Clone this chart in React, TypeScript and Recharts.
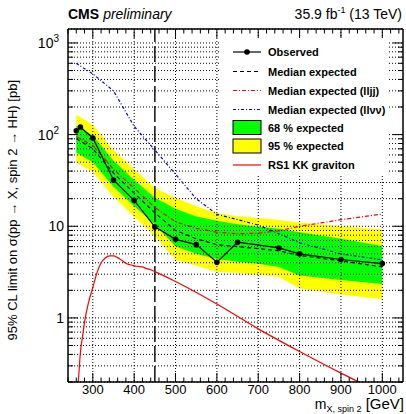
import React from 'react'
import { ComposedChart, Line, Area, XAxis, YAxis, CartesianGrid, ReferenceLine } from 'recharts'

const FONT = '"Liberation Sans", Arial, Helvetica, sans-serif'

// expected limits, sampled at these masses [GeV]
const expMass = [260, 270, 300, 350, 400, 450, 500, 550, 600, 650, 700, 750, 800, 900, 1000]
const expMedian = [90, 85, 70, 38, 23, 14, 9.0, 7.3, 6.3, 6.0, 5.7, 5.4, 4.8, 4.2, 3.6]
const exp68Hi = [125, 118, 98, 52, 32, 20.5, 15.5, 12.8, 11.5, 10.5, 9.9, 9.4, 8.6, 7.3, 6.1]
const exp68Lo = [64, 60, 50, 27, 16.5, 10.5, 6.0, 5.0, 4.4, 4.1, 3.9, 3.6, 2.9, 2.6, 2.35]
const exp95Hi = [165, 155, 128, 68, 42, 26, 20.5, 16.5, 14, 12.9, 12.3, 11.7, 11, 10, 9.2]
const exp95Lo = [50, 47, 39, 21, 12.7, 7.8, 4.3, 3.7, 3.2, 3.1, 2.95, 2.8, 2.1, 1.8, 1.6]
const expLljj = [95, 90, 76, 42, 26, 16, 11.2, 9.5, 8.6, 8.3, 8.4, 8.9, 10, 11.8, 13.6]
const expLlvv = [600, 560, 460, 300, 123, 68, 37, 20, 13.5, 11.8, 10.3, 8.3, 6.6, 5.0, 4.3]

// observed limit
const obsMass = [260, 270, 300, 350, 400, 450, 500, 550, 600, 650, 750, 800, 900, 1000]
const obsLimit = [110, 121, 92, 32, 19.2, 9.85, 7.2, 6.3, 4.05, 6.7, 5.8, 5.0, 4.34, 3.92]

// RS1 KK graviton cross section
const rsMass = [262, 265, 270, 275, 280, 290, 300, 310, 320, 330, 340, 350, 360, 370, 380, 390, 400, 410, 420, 430, 440, 450, 500, 600, 700, 800, 900, 1000]
const rsXsec = [0.17, 0.21, 0.42, 0.62, 0.9, 1.5, 2.15, 3.1, 4.0, 4.5, 4.75, 4.75, 4.55, 4.25, 3.95, 3.8, 3.7, 3.65, 3.6, 3.45, 3.35, 3.2, 2.5, 1.42, 0.76, 0.43, 0.25, 0.15]

const xMajor = [300, 400, 500, 600, 700, 800, 900, 1000]
const xTicks = Array.from({ length: 41 }, (_, i) => 240 + i * 20)
const yTicks = [0.1, 1, 10, 100].flatMap(d => [1, 2, 3, 4, 5, 6, 7, 8, 9].map(k => +(k * d).toPrecision(3))).filter(v => v >= 0.2).concat([1000])

const bandData = expMass.map((x, i) => ({ x, y95: [exp95Lo[i], exp95Hi[i]], y68: [exp68Lo[i], exp68Hi[i]] }))
const medianData = expMass.map((x, i) => ({ x, y: expMedian[i] }))
const lljjData = expMass.map((x, i) => ({ x, y: expLljj[i] }))
const llvvData = expMass.map((x, i) => ({ x, y: expLlvv[i] }))
const obsData = obsMass.map((x, i) => ({ x, y: obsLimit[i] }))
const rsData = rsMass.map((x, i) => ({ x, y: rsXsec[i] }))

const isDecade = (v: number) => {
  const l = Math.log10(v)
  return Math.abs(l - Math.round(l)) < 1e-6
}

const frame = { stroke: '#000', strokeWidth: 1.5 }

const BottomTick = (p: any) => {
  const v = p.payload.value
  const major = v % 100 === 0 && v >= 300
  return (
    <g>
      <line x1={p.x} x2={p.x} y1={p.y} y2={p.y - (major ? 9 : 4.5)} stroke="#000" />
      {major && <text x={p.x} y={p.y + 11.5} textAnchor="middle" fontSize={13} fontFamily={FONT}>{v}</text>}
    </g>
  )
}

const TopTick = (p: any) => {
  const v = p.payload.value
  const major = v % 100 === 0 && v >= 300
  return <line x1={p.x} x2={p.x} y1={p.y} y2={p.y + (major ? 9 : 4.5)} stroke="#000" />
}

const LeftTick = (p: any) => {
  const v = p.payload.value
  const major = isDecade(v)
  const e = Math.round(Math.log10(v))
  return (
    <g>
      <line x1={p.x} x2={p.x + (major ? 10 : 5)} y1={p.y} y2={p.y} stroke="#000" />
      {major && e < 2 && (
        <text x={p.x - 4} y={p.y + 5} textAnchor="end" fontSize={14} fontFamily={FONT}>{v}</text>
      )}
      {major && e >= 2 && (
        <text x={p.x - 9} y={p.y + 5} textAnchor="end" fontSize={14} fontFamily={FONT}>
          10<tspan fontSize={10} dy={-6}>{e}</tspan>
        </text>
      )}
    </g>
  )
}

const RightTick = (p: any) => {
  const major = isDecade(p.payload.value)
  return <line x1={p.x} x2={p.x - (major ? 10 : 5)} y1={p.y} y2={p.y} stroke="#000" />
}

const legendRows = [
  { label: 'Observed', kind: 'obs' },
  { label: 'Median expected', kind: 'median' },
  { label: 'Median expected (lljj)', kind: 'lljj' },
  { label: 'Median expected (llνν)', kind: 'llvv' },
  { label: '68 % expected', kind: 'g68' },
  { label: '95 % expected', kind: 'g95' },
  { label: 'RS1 KK graviton', kind: 'rs' },
]
const legendY = [52, 71.5, 90.5, 109.5, 127.5, 146, 165]

function LegendSymbol({ kind, y }: { kind: string; y: number }) {
  const x1 = 233
  const x2 = 261
  if (kind === 'obs') return (
    <g>
      <line x1={x1} x2={x2} y1={y} y2={y} stroke="#000" strokeWidth={1.2} />
      <circle cx={247} cy={y} r={2.8} fill="#000" />
    </g>
  )
  if (kind === 'median') return <line x1={x1} x2={x2} y1={y} y2={y} stroke="#000" strokeWidth={1.2} strokeDasharray="4 3" />
  if (kind === 'lljj') return <line x1={x1} x2={x2} y1={y} y2={y} stroke="#ff0000" strokeWidth={1.2} strokeDasharray="4 2 1 2" />
  if (kind === 'llvv') return <line x1={x1} x2={x2} y1={y} y2={y} stroke="#0000ff" strokeWidth={1.2} strokeDasharray="3 2 1 2" />
  if (kind === 'g68') return <rect x={x1} y={y - 7} width={28} height={14} fill="#00ff00" stroke="#000" />
  if (kind === 'g95') return <rect x={x1} y={y - 7} width={28} height={14} fill="#ffff00" stroke="#000" />
  return <line x1={x1} x2={x2} y1={y} y2={y} stroke="#ff0000" strokeWidth={1.2} />
}

export default function App() {
  return (
    <div style={{ position: 'absolute', left: 0, top: 0, width: 406, height: 414, background: '#fff', fontFamily: FONT }}>
      <ComposedChart width={406} height={414} margin={{ top: 28, right: 2, bottom: 31, left: 67 }}>
        <XAxis xAxisId="b" type="number" dataKey="x" domain={[240, 1050]} ticks={xTicks} interval={0} allowDataOverflow
          height={1} tickSize={0} tickMargin={0} tickLine={false} axisLine={frame} tick={BottomTick} />
        <XAxis xAxisId="t" orientation="top" type="number" dataKey="x" domain={[240, 1050]} ticks={xTicks} interval={0} allowDataOverflow
          height={1} tickSize={0} tickMargin={0} tickLine={false} axisLine={frame} tick={TopTick} />
        <YAxis yAxisId="l" type="number" scale="log" domain={[0.2, 1420]} ticks={yTicks} interval={0} allowDataOverflow
          width={1} tickSize={0} tickMargin={0} tickLine={false} axisLine={frame} tick={LeftTick} />
        <YAxis yAxisId="r" orientation="right" type="number" scale="log" domain={[0.2, 1420]} ticks={yTicks} interval={0} allowDataOverflow
          width={1} tickSize={0} tickMargin={0} tickLine={false} axisLine={frame} tick={RightTick} />

        <Area xAxisId="b" yAxisId="l" data={bandData} dataKey="y95" type="linear" fill="#ffff00" fillOpacity={1} stroke="none" isAnimationActive={false} />
        <Area xAxisId="b" yAxisId="l" data={bandData} dataKey="y68" type="linear" fill="#00ff00" fillOpacity={1} stroke="none" isAnimationActive={false} />

        <CartesianGrid xAxisId="b" yAxisId="l" stroke="#000" strokeDasharray="1 2" verticalValues={xMajor} zIndex={150} />
        <ReferenceLine xAxisId="b" yAxisId="l" x={450} stroke="#111" strokeWidth={1.5} strokeDasharray="16 4" zIndex={160} />

        <Line xAxisId="b" yAxisId="l" data={rsData} dataKey="y" type="monotone" stroke="#ff0000" strokeWidth={1.2} dot={false} isAnimationActive={false} />
        <Line xAxisId="b" yAxisId="l" data={llvvData} dataKey="y" type="linear" stroke="#0000ff" strokeWidth={1.2} strokeDasharray="3 2 1 2" dot={false} isAnimationActive={false} />
        <Line xAxisId="b" yAxisId="l" data={lljjData} dataKey="y" type="linear" stroke="#ff0000" strokeWidth={1.2} strokeDasharray="4 2 1 2" dot={false} isAnimationActive={false} />
        <Line xAxisId="b" yAxisId="l" data={medianData} dataKey="y" type="linear" stroke="#000" strokeWidth={1.2} strokeDasharray="4 3" dot={false} isAnimationActive={false} />
        <Line xAxisId="b" yAxisId="l" data={obsData} dataKey="y" type="linear" stroke="#000" strokeWidth={1.2}
          dot={{ r: 2.8, fill: '#000', stroke: '#000', strokeWidth: 0 }} isAnimationActive={false} />
      </ComposedChart>

      <svg width={406} height={414} style={{ position: 'absolute', left: 0, top: 0, pointerEvents: 'none' }} fontFamily={FONT}>
        <text x={68} y={19} fontSize={14}>
          <tspan fontWeight="bold">CMS</tspan>
          <tspan fontStyle="italic" dx={4}>preliminary</tspan>
        </text>
        <text x={402} y={19} fontSize={14} textAnchor="end">
          35.9 fb<tspan fontSize={9} dy={-6}>-1</tspan><tspan dy={6}> (13 TeV)</tspan>
        </text>
        <text x={404} y={409} fontSize={14} textAnchor="end">
          m<tspan fontSize={9} dy={2.5}>X, spin 2</tspan><tspan dy={-2.5} fontSize={15}> [GeV]</tspan>
        </text>
        <text x={17} y={80} fontSize={13} textAnchor="end" transform="rotate(-90 17 80)">
          95% CL limit on σ(pp → X, spin 2 → HH) [pb]
        </text>

        <rect x={219} y={38} width={170} height={136} fill="#fff" />
        {legendRows.map((r, i) => (
          <g key={r.kind}>
            <LegendSymbol kind={r.kind} y={legendY[i]} />
            <text x={268} y={legendY[i] + 4} fontSize={11} fontWeight="bold">{r.label}</text>
          </g>
        ))}
      </svg>
    </div>
  )
}
